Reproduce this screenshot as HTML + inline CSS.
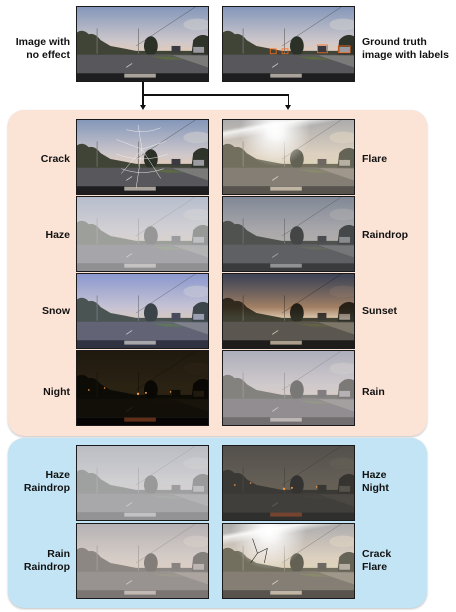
<!DOCTYPE html>
<html><head><meta charset="utf-8">
<style>
body{margin:0;width:456px;height:612px;background:#fff;position:relative;overflow:hidden;font-family:"Liberation Sans",sans-serif}
.box{position:absolute;left:8px;width:419px;border-radius:16px;box-shadow:0 1px 2px rgba(0,0,0,.25)}
.img{position:absolute;width:133px;height:76px;border:1.5px solid #1a1a1a;box-sizing:border-box;overflow:hidden;background:#777}
.img svg.s{position:absolute;left:0;top:0;width:100%;height:100%}
.ov{position:absolute;left:0;top:0;width:100%;height:100%}
.lbl{position:absolute;font-weight:bold;font-size:10.5px;line-height:13px;color:#111}
.l{text-align:right;right:386px}
.r{left:362px}
.line{position:absolute;background:#111}
</style></head><body>
<svg width="0" height="0" style="position:absolute">
<defs>
<linearGradient id="sky" x1="0" y1="0" x2="0" y2="1"><stop offset="0" stop-color="#8497ba"/><stop offset=".7" stop-color="#cdc7cb"/><stop offset="1" stop-color="#e8cdb4"/></linearGradient>
<symbol id="scene" viewBox="0 0 133 76" preserveAspectRatio="none">
<rect width="133" height="50" fill="url(#sky)"/>
<ellipse cx="122" cy="18" rx="14" ry="6" fill="#c8c8cc" opacity=".7"/>
<line x1="60" y1="40" x2="120" y2="0" stroke="#444" stroke-width=".4"/>
<path d="M0 50 L0 26 Q6 22 12 28 Q18 26 24 34 L34 40 L60 45 L133 45 L133 50Z" fill="#3f4436"/>
<ellipse cx="75" cy="40" rx="7" ry="10" fill="#2c3128"/>
<path d="M116 50 L118 34 Q125 26 133 30 L133 50Z" fill="#2f342b"/>
<rect x="20" y="22" width=".8" height="26" fill="#777"/><rect x="62" y="22" width=".8" height="26" fill="#777"/>
<rect x="96" y="40" width="9" height="7" fill="#3a3a40"/><rect x="118" y="41" width="11" height="6" fill="#9a9aa0"/>
<rect y="49" width="133" height="19" fill="#58585c"/>
<path d="M65 49 L95 49 L133 62 L133 50Z" fill="#7a7a78"/>
<path d="M75 51 L95 51 L110 54 L90 54Z" fill="#5c6a44"/>
<path d="M50 62 L56 58" stroke="#ccc" stroke-width=".8"/>
<rect y="68" width="133" height="8" fill="#1e1e20"/>
<rect x="48" y="68.5" width="32" height="4" fill="#a9a39c"/>
</symbol>
</defs></svg>

<div class="box" style="top:110px;height:326px;background:#fbe3d6"></div>
<div class="box" style="top:438px;height:170px;background:#c2e4f4"></div>

<div class="line" style="left:142px;top:82px;width:1.5px;height:26px"></div>
<div class="line" style="left:142px;top:94px;width:147px;height:1.5px"></div>
<div class="line" style="left:287.5px;top:94px;width:1.5px;height:14px"></div>
<div style="position:absolute;left:140px;top:105px;border-left:3px solid transparent;border-right:3px solid transparent;border-top:5px solid #111"></div>
<div style="position:absolute;left:285px;top:105px;border-left:3px solid transparent;border-right:3px solid transparent;border-top:5px solid #111"></div>

<div id="imgs"></div>

<div class="lbl l" style="top:36px">Image with<br>no effect</div>
<div class="lbl r" style="top:36px">Ground truth<br>image with labels</div>
<div class="lbl l" style="top:153px">Crack</div>
<div class="lbl r" style="top:153px">Flare</div>
<div class="lbl l" style="top:229px">Haze</div>
<div class="lbl r" style="top:229px">Raindrop</div>
<div class="lbl l" style="top:305px">Snow</div>
<div class="lbl r" style="top:305px">Sunset</div>
<div class="lbl l" style="top:386px">Night</div>
<div class="lbl r" style="top:386px">Rain</div>
<div class="lbl l" style="top:469px">Haze<br>Raindrop</div>
<div class="lbl r" style="top:469px">Haze<br>Night</div>
<div class="lbl l" style="top:548px">Rain<br>Raindrop</div>
<div class="lbl r" style="top:548px">Crack<br>Flare</div>

<script>
const items=[
 ['image-no-effect',76,6,'',''],
 ['image-ground-truth',222,6,'','boxes'],
 ['image-crack',76,119,'','crack'],
 ['image-flare',222,119,'brightness(1.25) contrast(.55) sepia(.35)','flare'],
 ['image-haze',76,196,'contrast(.6) brightness(1.15)','haze'],
 ['image-raindrop',222,196,'contrast(.8) brightness(.95) saturate(.5)','drops'],
 ['image-snow',76,273,'hue-rotate(10deg) saturate(1.2) brightness(1.05)','snow'],
 ['image-sunset',222,273,'sepia(.4) brightness(.9)','sunset'],
 ['image-night',76,350,'brightness(.14) sepia(1) saturate(2)','night'],
 ['image-rain',222,350,'contrast(.7) brightness(1.1) saturate(.6)','rain'],
 ['image-haze-raindrop',76,445,'contrast(.55) brightness(1.15) saturate(.4)','haze'],
 ['image-haze-night',222,445,'brightness(.35) sepia(.7) contrast(.7)','night'],
 ['image-rain-raindrop',76,523,'contrast(.65) brightness(1.1) saturate(.5) sepia(.2)','rain'],
 ['image-crack-flare',222,523,'brightness(1.25) contrast(.55) sepia(.35)','flarecrack']
];
const ovs={
 boxes:'<svg class="ov" viewBox="0 0 133 76" preserveAspectRatio="none"><g fill="none" stroke="#ff6a1a" stroke-width=".8"><rect x="48" y="43" width="6" height="5"/><rect x="60" y="43" width="6" height="5"/><rect x="96" y="39" width="10" height="8"/><rect x="117" y="40" width="12" height="7"/></g></svg>',
 crack:'<svg class="ov" viewBox="0 0 133 76" preserveAspectRatio="none"><g stroke="#eee" stroke-width=".5" fill="none"><path d="M62 5 L66 30 L60 70 M66 30 L40 20 M66 30 L90 22 M66 30 L85 60 M66 30 L45 55 M50 10 Q70 15 85 8 M40 35 Q66 45 92 35 M45 50 Q66 58 88 50"/></g></svg>',
 flare:'<div class="ov" style="background:radial-gradient(circle at 40% 15%,#fff 0,rgba(255,255,255,.9) 8%,rgba(255,255,240,0) 35%),linear-gradient(170deg,rgba(255,255,255,0) 10%,rgba(255,255,255,.8) 14%,rgba(255,255,255,0) 22%)"></div>',
 flarecrack:'<div class="ov" style="background:radial-gradient(circle at 35% 10%,#fff 0,rgba(255,255,255,.9) 8%,rgba(255,255,240,0) 35%),linear-gradient(170deg,rgba(255,255,255,0) 10%,rgba(255,255,255,.8) 14%,rgba(255,255,255,0) 22%)"></div><svg class="ov" viewBox="0 0 133 76" preserveAspectRatio="none"><path d="M30 15 L35 30 L28 40 M35 30 L45 25 L42 40" stroke="#222" stroke-width=".6" fill="none"/></svg>',
 haze:'<div class="ov" style="background:rgba(225,225,228,.45)"></div>',
 drops:'<div class="ov" style="background:rgba(120,130,140,.15)"></div>',
 snow:'<div class="ov" style="background:rgba(120,140,210,.18)"></div>',
 sunset:'<div class="ov" style="background:linear-gradient(#6b7490 0,#c9a890 45%,rgba(0,0,0,0) 60%);mix-blend-mode:multiply"></div>',
 night:'<svg class="ov" viewBox="0 0 133 76" preserveAspectRatio="none"><g fill="#ff9a40"><circle cx="62" cy="44" r="1.2"/><circle cx="70" cy="43" r="1"/><circle cx="12" cy="40" r=".8"/><circle cx="28" cy="38" r=".8"/><circle cx="95" cy="42" r=".8"/></g><rect x="48" y="68.5" width="32" height="4" fill="#8a3a1a" opacity=".6"/></svg>',
 rain:'<div class="ov" style="background:rgba(230,215,220,.3)"></div>'
};
const root=document.getElementById('imgs');
for(const [name,x,y,f,o] of items){
 const d=document.createElement('div');
 d.className='img';
 d.style.left=x+'px';d.style.top=y+'px';
 
 
 d.innerHTML='<svg class="s" viewBox="0 0 133 76" preserveAspectRatio="none" style="filter:'+(f||'none')+'"><use href="#scene"/></svg>'+(ovs[o]||'');
 root.appendChild(d);
}
</script>
</body></html>
